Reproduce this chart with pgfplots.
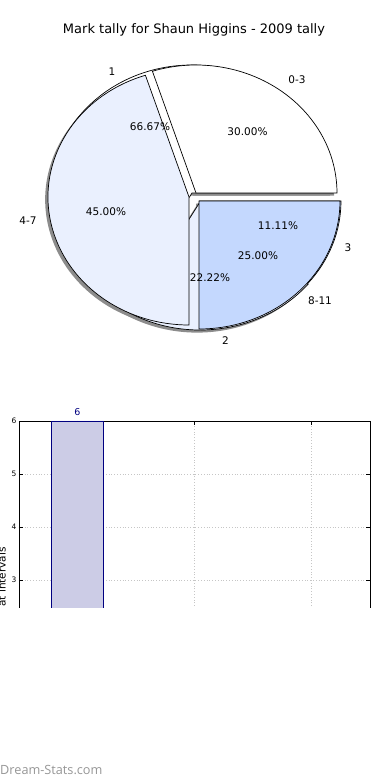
\documentclass[border=0pt]{standalone}
\usepackage{pgfplots}
\pgfplotsset{compat=1.18}
\usepackage{fontspec}
\setmainfont{DejaVu Sans}
\newfontfamily\wmfont{Open Sans}
\definecolor{pieW}{RGB}{255,255,255}
\definecolor{pieL}{RGB}{234,240,254}
\definecolor{pieM}{RGB}{196,216,254}
\definecolor{barfill}{RGB}{204,204,230}
\definecolor{baredge}{RGB}{0,0,128}
\definecolor{shadowc}{RGB}{140,140,140}
\definecolor{wm}{RGB}{150,150,150}
% #1,#2 apex (pixel coords), #3,#4 start/end (cumulative percent), #5 style
\newcommand\pieslice[5]{\path[#5] (axis cs:#1,#2) -- ++({141pt*cos(3.6*(#3))},{128pt*sin(3.6*(#3))}) arc[start angle={3.6*(#3)}, end angle={3.6*(#4)}, x radius=141pt, y radius=128pt] -- cycle;}
\begin{document}
\begin{tikzpicture}
\useasboundingbox (0pt,0pt) rectangle (390pt,780pt);
% ---------------- pie chart (pixel coordinates) ----------------
\begin{axis}[at={(0pt,0pt)}, anchor=south west, scale only axis,
  width=390pt, height=780pt, xmin=0, xmax=390, ymin=0, ymax=780,
  y dir=reverse, hide axis, clip=false]
\pgfplotsextra{
  % shadows (tally B: 1,2,3 = 66.67, 22.22, 11.11 ; tally A: 0-3,4-7,8-11 = 30,45,25)
  \pieslice{192}{193}{0}{66.667}{fill=shadowc,xshift=-2.8pt,yshift=-2.6pt}
  \pieslice{200}{202}{66.667}{88.889}{fill=shadowc,xshift=-2.8pt,yshift=-2.6pt}
  \pieslice{200}{201}{88.889}{100}{fill=shadowc,xshift=-2.8pt,yshift=-2.6pt}
  \pieslice{196}{193}{0}{30}{fill=shadowc,xshift=-2.8pt,yshift=-2.6pt}
  \pieslice{189}{197}{30}{75}{fill=shadowc,xshift=-2.8pt,yshift=-2.6pt}
  \pieslice{199}{201}{75}{100}{fill=shadowc,xshift=-2.8pt,yshift=-2.6pt}
  % tally B wedges
  \pieslice{192}{193}{0}{66.667}{fill=pieW,draw=black,line width=0.7pt}
  \pieslice{200}{202}{66.667}{88.889}{fill=pieL,draw=black,line width=0.7pt}
  \pieslice{200}{201}{88.889}{100}{fill=pieM,draw=black,line width=0.7pt}
  % tally A wedges
  \pieslice{196}{193}{0}{30}{fill=pieW,draw=black,line width=0.7pt}
  \pieslice{189}{197}{30}{75}{fill=pieL,draw=black,line width=0.7pt}
  \pieslice{199}{201}{75}{100}{fill=pieM,draw=black,line width=0.7pt}
}
\node[font=\fontsize{13}{15}\selectfont] at (axis cs:194,30) {Mark tally for Shaun Higgins - 2009 tally};
\begin{scope}[every node/.style={font=\fontsize{10.5}{12}\selectfont, inner sep=0pt}]
\node at (axis cs:112,72) {1};
\node at (axis cs:297,80) {0-3};
\node at (axis cs:150,127) {66.67\%};
\node at (axis cs:247.5,132) {30.00\%};
\node at (axis cs:106,211.5) {45.00\%};
\node at (axis cs:28,221) {4-7};
\node at (axis cs:278,226) {11.11\%};
\node at (axis cs:348,248) {3};
\node at (axis cs:258,256) {25.00\%};
\node at (axis cs:210,278) {22.22\%};
\node at (axis cs:320,301) {8-11};
\node at (axis cs:225.5,341) {2};
\end{scope}
\node[anchor=west, inner sep=0pt, text=wm, font=\wmfont\fontsize{12.7}{14}\selectfont] at (axis cs:0,770) {Dream-Stats.com};
\end{axis}
% ---------------- bar chart (cut off at the bottom) ----------------
\begin{scope}
\clip (0pt,172pt) rectangle (390pt,780pt);
\begin{axis}[at={(19pt,359pt)}, anchor=north west, scale only axis,
  width=351pt, height=190.8pt,
  xmin=-0.5, xmax=2.5, ymin=2.4, ymax=6,
  xtick={0,1,2}, xticklabels={,,},
  ytick={3,4,5,6},
  /pgf/number format/assume math mode=true,
  tick label style={font=\fontsize{7.5}{8}\selectfont},
  yticklabel style={xshift=1pt},
  axis line style={black, line width=0.8pt},
  tick style={black, line width=0.6pt},
  major tick length=4pt,
  grid=major,
  major grid style={gray!45, dash pattern=on 1pt off 1.8pt, line width=0.9pt},
  clip=false,
  ylabel={Marks at intervals},
  ylabel style={at={(axis description cs:-0.037,0.3396)}, anchor=south east, inner sep=0pt, font=\fontsize{10.5}{12}\selectfont},
  ]
\addplot[ybar, bar width=52pt, fill=barfill, draw=baredge, line width=0.8pt,
  nodes near coords,
  every node near coord/.append style={font=\fontsize{9.5}{11}\selectfont, text=baredge, inner sep=0pt, yshift=5pt}]
  coordinates {(0,6) (1,2) (2,1)};
\end{axis}
\end{scope}
\end{tikzpicture}
\end{document}
